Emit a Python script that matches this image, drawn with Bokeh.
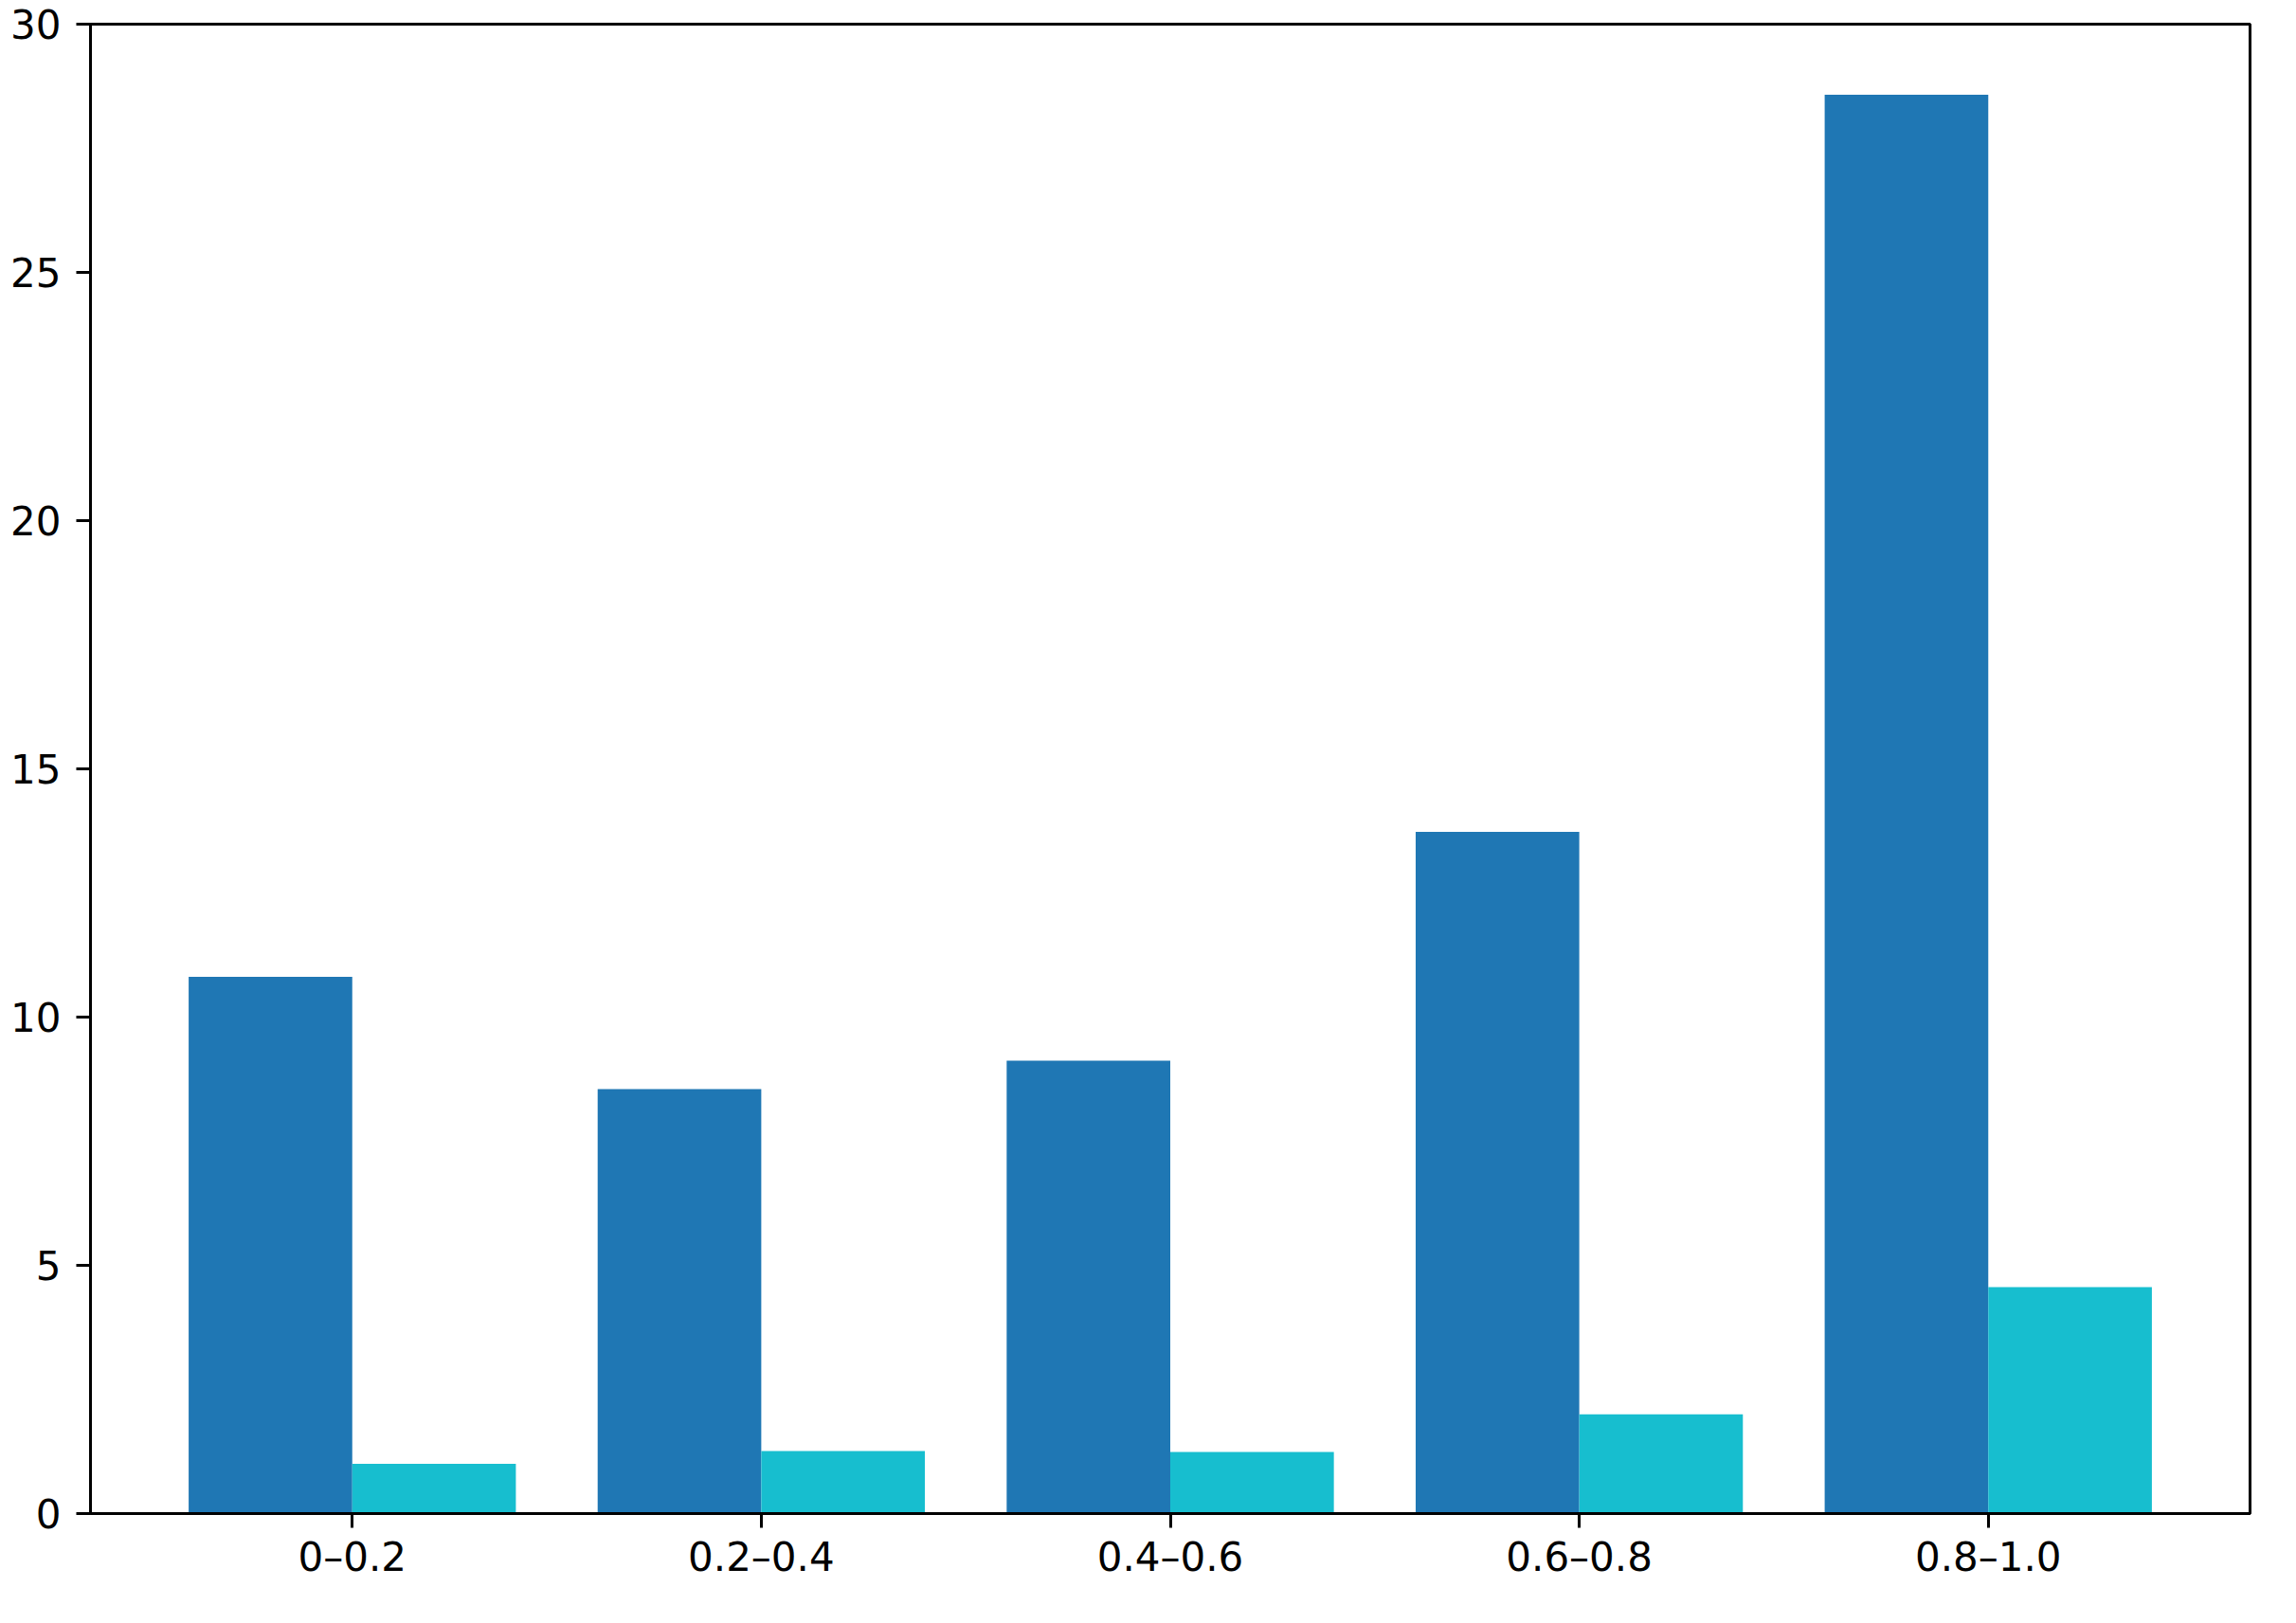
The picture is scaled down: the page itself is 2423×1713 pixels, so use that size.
from bokeh.plotting import figure
from bokeh.models import ColumnDataSource, Range1d, FixedTicker
from bokeh.transform import dodge
from bokeh.embed import file_html
from bokeh.resources import INLINE

categories = ["0–0.2", "0.2–0.4", "0.4–0.6", "0.6–0.8", "0.8–1.0"]
series_a = [10.81, 8.55, 9.12, 13.73, 28.58]
series_b = [1.00, 1.26, 1.24, 2.00, 4.56]
y_ticks = [0, 5, 10, 15, 20, 25, 30]

positions = list(range(len(categories)))
src = ColumnDataSource(dict(x=positions, a=series_a, b=series_b))

p = figure(frame_width=2279, frame_height=1572,
           x_range=Range1d(-0.64, len(categories) - 1 + 0.64),
           y_range=Range1d(0, 30),
           output_backend="svg", toolbar_location=None,
           min_border_left=95, min_border_top=25, min_border_right=30,
           min_border_bottom=90)

p.vbar(x=dodge("x", -0.2), top="a", width=0.4, source=src,
       fill_color="#1f77b4", line_color=None)
p.vbar(x=dodge("x", 0.2), top="b", width=0.4, source=src,
       fill_color="#17becf", line_color=None)

p.xgrid.visible = False
p.ygrid.visible = False
p.outline_line_color = "black"
p.outline_line_width = 3
p.outline_line_alpha = 1.0
p.background_fill_color = "white"
p.border_fill_color = "white"

p.xaxis.ticker = FixedTicker(ticks=positions)
p.xaxis.major_label_overrides = {i: c for i, c in enumerate(categories)}
p.yaxis.ticker = FixedTicker(ticks=y_ticks)

for ax in (p.xaxis[0], p.yaxis[0]):
    ax.axis_line_color = "black"
    ax.axis_line_width = 3
    ax.major_tick_line_width = 3
    ax.major_tick_line_color = "black"
    ax.major_tick_out = 15
    ax.major_tick_in = 0
    ax.minor_tick_line_color = None
    ax.major_label_text_font = "DejaVu Sans"
    ax.major_label_text_font_size = "42px"
    ax.major_label_text_color = "black"

p.yaxis.major_label_standoff = 16
p.xaxis.major_label_standoff = 6

open("out.html", "w").write(file_html(p, INLINE))
